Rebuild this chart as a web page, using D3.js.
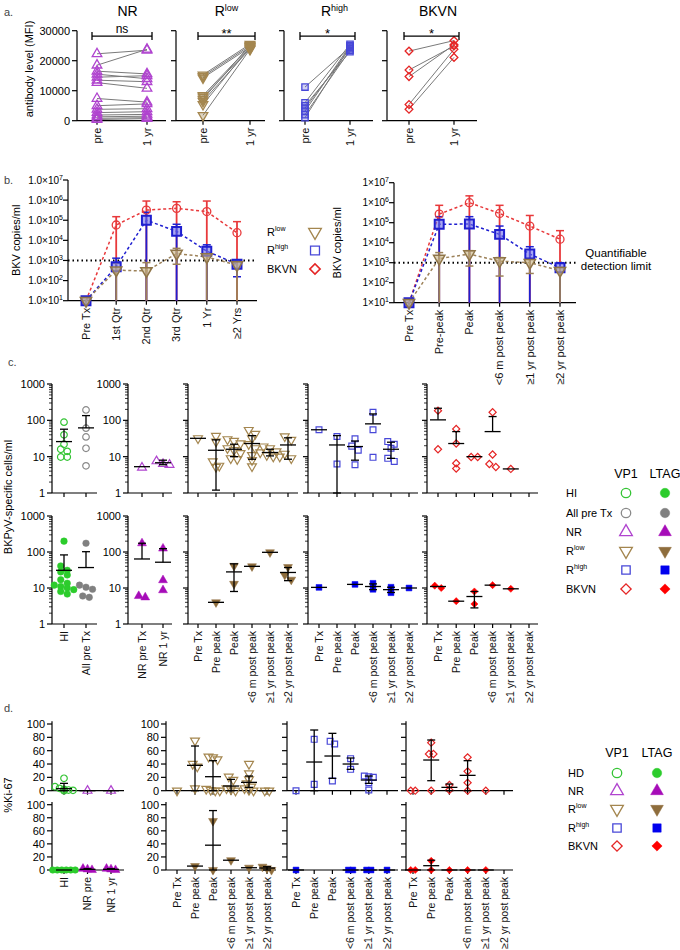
<!DOCTYPE html>
<html><head><meta charset="utf-8">
<script src="https://cdn.jsdelivr.net/npm/d3@7"></script>
<style>body{margin:0;background:#fff} text{font-family:'Liberation Sans',Arial,sans-serif}</style>
</head><body><script>
// ================= DATA =================
// Panel a
const aGroups = ["NR","Rlow","Rhigh","BKVN"];
const aTimepoints = ["pre","1 yr"];
const aYTicks = [0,10000,20000,30000];
const aSignif = ["ns","**","*","*"];
const aNRpre  = [22300,18500,16500,15500,14500,13500,12700,7400,5000,3800,2700,1900,1300,800,400];
const aNRpost = [23500,23800,15600,14000,15000,13000,10800,6200,5600,4000,3000,2100,1500,1000,700];
const aRlowPre  = [15300,14800,14300,8400,7900,7200,6500,5400,1800];
const aRlowPost = [25500,25000,24500,24800,24200,25200,24000,24600,23800];
const aRhighPre  = [11200,6000,5000,4200,3200,2000,1000];
const aRhighPost = [24500,25500,23000,24000,25000,23500,24800];
const aBKVNpre  = [23200,16900,14700,5400,3800];
const aBKVNpost = [26700,24900,25300,23800,21100];

// Panel b
const bCatsLeft  = ["Pre Tx","1st Qtr","2nd Qtr","3rd Qtr","1 Yr","≥2 Yrs"];
const bCatsRight = ["Pre Tx","Pre-peak","Peak","<6 m post peak","≥1 yr post peak","≥2 yr post peak"];
const bTickExps = [1,2,3,4,5,6,7];
const bTickPrefix = ["1.0×10","1×10"];
const bDetectionLimit = 1000;
const bLeftBKVN   = [10,5.8e4,3.2e5,3.9e5,2.7e5,2.4e4];
const bLeftBKVNhi = [null,1.5e5,9e5,8.3e5,9e5,8.5e4];
const bLeftBKVNlo = [null,10,10,10,10,10];
const bLeftRhigh   = [10,490,1.0e5,2.8e4,2.9e3,650];
const bLeftRhighhi = [null,1.3e3,2.5e5,6.3e4,6e3,1.05e3];
const bLeftRhighlo = [null,10,10,10,10,155];
const bLeftRlow   = [10,330,300,2.2e3,1.5e3,590];
const bLeftRlowhi = [null,720,780,4e3,2.2e3,900];
const bLeftRlowlo = [null,10,10,650,10,10];
const bRightBKVN   = [10,2.7e5,1e6,2.9e5,6.8e4,1.5e4];
const bRightBKVNhi = [null,7.4e5,2.2e6,7.4e5,2.3e5,4e4];
const bRightBKVNlo = [null,10,10,10,10,10];
const bRightRhigh   = [10,8.3e4,8.6e4,2.6e4,2.7e3,560];
const bRightRhighhi = [null,2e5,2e5,6.8e4,6.3e3,1e3];
const bRightRhighlo = [null,10,10,10,10,10];
const bRightRlow   = [10,1.6e3,2.7e3,1.2e3,1e3,400];
const bRightRlowhi = [null,3.2e3,4e3,1.8e3,1.6e3,600];
const bRightRlowlo = [null,10,680,215,290,10];
const bLegend = ["Rlow","Rhigh","BKVN"];

// Panel c
const cCatsHI = ["HI","All pre Tx"];
const cCatsNR = ["NR pre Tx","NR 1 yr"];
const cCatsGroup = ["Pre Tx","Pre peak","Peak","<6 m post peak","≥1 yr post peak","≥2 yr post peak"];
const cYTicks = [1,10,100,1000];
// top row (VP1)
const cVP1HI   = [[89,40,22,16,14,9.8,9.8],[193,61,35,17,5.6]];
const cVP1HImean = [26,62], cVP1HIhi = [57,135], cVP1HIlo = [null,null];
const cVP1NR   = [[5.0],[6.0,6.3,7.5]];
const cVP1NRmean = [5.3,6.8], cVP1NRhi = [null,8.0], cVP1NRlo = [null,6.0];
const cVP1Rlow = [[32],[37,26,7.4,5.6,5.2],[30,27,23,17,15,12.5,9,8.5],[54,42,32,22,17,11,8,5.4],[19,17,14,13,11,10,10],[36,29,12,9]];
const cVP1Rlowmean = [32,15,16,23,13,21], cVP1Rlowhi = [null,29,22,38,16,33], cVP1Rlowlo = [null,1.2,10,8.5,10.5,8.5];
const cVP1Rhigh = [[55],[36,6.3],[31,19.5,15,6.0],[167,55,9.6],[26,22,17,9,7.4],[]];
const cVP1Rhighmean = [55,21,19,80,16,null], cVP1Rhighhi = [null,38,27,150,25,null], cVP1Rhighlo = [null,1,8,null,9,null];
const cVP1BKVN = [[185,16],[58,23,6.6,4.7],[9.8,9.8],[167,11.5,6.3,5.2],[4.6],[]];
const cVP1BKVNmean = [103,23,10,49,4.6,null], cVP1BKVNhi = [215,49,null,127,null,null], cVP1BKVNlo = [null,null,null,null,null,null];
// bottom row (LTAG)
const cLTAGHI = [[200,41,31,28,23,17,13.5,12,11,10,9,8,6.8],[175,12,10.5,9.2,6.0,5.5]];
const cLTAGHImean = [31,37], cLTAGHIhi = [83,102], cLTAGHIlo = [null,null];
const cLTAGNR = [[175,5.5,6.0],[125,16.5,8.7]];
const cLTAGNRmean = [64,52], cLTAGNRhi = [175,124], cLTAGNRlo = [null,null];
const cLTAGRlow = [[],[4.0],[41,13],[40],[98],[38,23,17]];
const cLTAGRlowmean = [null,4,28,40,98,27], cLTAGRlowhi = [null,null,47,null,null,37], cLTAGRlowlo = [null,null,8,null,null,16];
const cLTAGRhigh = [[10.4],[],[12.6],[9.2,13.5],[7.4,10.5],[10]];
const cLTAGRhighmean = [10.4,null,12.6,11,9,10], cLTAGRhighhi = [null,null,null,13,10.5,null], cLTAGRhighlo = [null,null,null,9,7.5,null];
const cLTAGBKVN = [[10,11.6],[4.3],[8,3.6],[12],[9.5],[]];
const cLTAGBKVNmean = [11,4.3,5.8,12,9.5,null], cLTAGBKVNhi = [null,null,8,null,null,null], cLTAGBKVNlo = [null,null,2.8,null,null,null];
const cLegendNames = ["HI","All pre Tx","NR","Rlow","Rhigh","BKVN"];
const cLegendKeys  = ["HI","AllPre","NR","Rlow","Rhigh","BKVN"];
const legendHeaders = ["VP1","LTAG"];

// Panel d
const dCats1 = ["HI","NR pre","NR 1 yr"];
const dYTicks = [0,20,40,60,80,100];
const dVP1first = [[18.6,6,3.5,2,1,0,0.5],[0],[0]];
const dVP1firstmean = [3,0,0], dVP1firsthi = [11,null,null], dVP1firstlo = [0,null,null];
const dVP1Rlow = [[0],[75,40,36,3.5],[51,50,47,2.5,0,0,1],[21,16,3.5,2,0],[40,26,17,11,6,3.5,1,0],[0,0]];
const dVP1Rlowmean = [null,38,21,7,12.5,0], dVP1Rlowhi = [null,67,45,17,22,null], dVP1Rlowlo = [null,0,0,0,5,null];
const dVP1Rhigh = [[0],[77,9.5],[74,70,14.5],[48,32],[22,20,21,12,1],[]];
const dVP1Rhighmean = [null,43,52,40,16,null], dVP1Rhighhi = [null,91,86,49,22,null], dVP1Rhighlo = [null,0,18.5,32,11,null];
const dVP1BKVN = [[0,0],[72,55,55,0],[1,8.5],[50,29,12,0],[0],[]];
const dVP1BKVNmean = [null,46,5,23,null,null], dVP1BKVNhi = [null,76,10,45,null,null], dVP1BKVNlo = [null,15,0,0,null,null];
const dLTAGfirst = [[0,0,0,0,0,0],[2,0,1],[2,1,0]];
const dLTAGfirstmean = [0,1,1], dLTAGfirsthi = [null,2,2], dLTAGfirstlo = [null,null,null];
const dLTAGRlow = [[],[6],[75,0],[15],[3.5],[5,0,2.5]];
const dLTAGRlowmean = [null,6,38,15,3.5,3], dLTAGRlowhi = [null,null,91,null,null,5], dLTAGRlowlo = [null,null,0,null,null,0];
const dLTAGRhigh = [[0],[],[],[0,0],[0,0],[0]];
const dLTAGRhighmean = [0,null,null,0,0,0], dLTAGRhighhi = [null,null,null,null,null,null], dLTAGRhighlo = [null,null,null,null,null,null];
const dLTAGBKVN = [[0,0],[14,0],[0],[0],[0],[]];
const dLTAGBKVNmean = [0,6.6,0,0,0,null], dLTAGBKVNhi = [null,15,null,null,null,null], dLTAGBKVNlo = [null,0,null,null,null,null];
const dLegendNames = ["HD","NR","Rlow","Rhigh","BKVN"];
const dLegendKeys  = ["HI","NR","Rlow","Rhigh","BKVN"];

// ================= DRAWING =================
const svg = d3.select("body").append("svg").attr("width",680).attr("height",950).style("display","block");
const CAL = "Lato,'Open Sans',sans-serif";
const STY = {
  HI:{stroke:"#35c435", fill:"#2ccc2c", shape:"circle"},
  AllPre:{stroke:"#8a8a8a", fill:"#808080", shape:"circle"},
  NR:{stroke:"#b044cf", fill:"#a60cb8", shape:"tri"},
  Rlow:{stroke:"#a4864f", fill:"#8e6d3c", shape:"itri"},
  Rhigh:{stroke:"#4848d8", fill:"#0000ee", shape:"square"},
  BKVN:{stroke:"#e52525", fill:"#ff0000", shape:"diamond"}
};
function symD(shape,size){
  const t = shape==="circle"?d3.symbolCircle:(shape==="tri"||shape==="itri")?d3.symbolTriangle:d3.symbolSquare;
  return d3.symbol().type(t).size(shape==="diamond"?size*0.75:size)();
}
function drawSym(g,shape,x,y,size,stroke,fill,sw){
  const r = shape==="itri"?180:shape==="diamond"?45:0;
  g.append("path").attr("d",symD(shape,size)).attr("transform",`translate(${x},${y}) rotate(${r})`)
    .attr("fill",fill).attr("stroke",stroke).attr("stroke-width",sw);
}
function supText(sel,name,supSize){
  const m = name.match(/^R(low|high)$/);
  if(m){ sel.append("tspan").text("R"); sel.append("tspan").attr("dy",-5).attr("font-size",supSize).text(m[1]); }
  else sel.text(name);
}
function line(g,x1,y1,x2,y2,col,w){
  return g.append("line").attr("x1",x1).attr("y1",y1).attr("x2",x2).attr("y2",y2).attr("stroke",col||"#000").attr("stroke-width",w||1);
}
function rotLabel(g,x,y,t,fs){
  g.append("text").attr("transform",`translate(${x},${y}) rotate(-90)`).attr("text-anchor","end").attr("dy","0.35em")
    .attr("font-size",fs).attr("fill","#111").text(t);
}
function panelLetter(x,y,t){ svg.append("text").attr("x",x).attr("y",y).attr("font-size",11).attr("fill","#444").text(t); }

// ---------- Panel a ----------
panelLetter(4,16,"a.");
const aLayout=[{x0:77,x1:166,c0:97,c1:147},{x0:176,x1:265,c0:203,c1:250},{x0:284,x1:373,c0:305,c1:350},{x0:387,x1:477,c0:409,c1:454}];
const aData=[[aNRpre,aNRpost],[aRlowPre,aRlowPost],[aRhighPre,aRhighPost],[aBKVNpre,aBKVNpost]];
const aYScale = d3.scaleLinear().domain([0,30000]).range([120.7,30.7]);
aGroups.forEach((grp,i)=>{
  const L=aLayout[i], g=svg.append("g"), st=STY[grp];
  const x=d3.scalePoint().domain(aTimepoints).range([L.c0,L.c1]);
  const y=aYScale;
  line(g,L.x0,y(0),L.x0,y(30000),"#000",1.2);
  aYTicks.forEach(t=>{
    line(g,L.x0-5,y(t),L.x0,y(t),"#000",1.2);
    if(i===0) g.append("text").attr("x",L.x0-7).attr("y",y(t)).attr("dy","0.35em").attr("text-anchor","end").attr("font-size",11).text(t);
  });
  line(g,L.x0,y(0),L.x1,y(0),"#000",1.2);
  aTimepoints.forEach(tp=>{ line(g,x(tp),y(0),x(tp),y(0)+4,"#000",1.2); rotLabel(g,x(tp),y(0)+7,tp,11); });
  const [pre,post]=aData[i];
  pre.forEach((v,k)=> line(g,x("pre"),y(v),x("1 yr"),y(post[k]),"#7a7a7a",1));
  const fillA = grp==="NR"?"none":(grp==="Rlow"?"rgba(164,134,79,0.35)":grp==="Rhigh"?"rgba(72,72,216,0.25)":"none");
  pre.forEach(v=>drawSym(g,st.shape,x("pre"),y(v),40,st.stroke,fillA,1.3));
  post.forEach(v=>drawSym(g,st.shape,x("1 yr"),y(v),40,st.stroke,fillA,1.3));
  const by=y(28200), bx0=x("pre")-5, bx1=x("1 yr")+5;
  line(g,bx0,by,bx1,by,"#000",1.3); line(g,bx0,by-4,bx0,by+4,"#000",1.3); line(g,bx1,by-4,bx1,by+4,"#000",1.3);
  g.append("text").attr("x",(bx0+bx1)/2).attr("y",by-(aSignif[i]==="ns"?3:-2)).attr("text-anchor","middle").attr("font-size",aSignif[i]==="ns"?12:13).text(aSignif[i]);
  const tt=g.append("text").attr("x",(L.x0+L.x1)/2+6).attr("y",16).attr("text-anchor","middle").attr("font-size",14).attr("font-family",CAL);
  supText(tt,grp,9);
});
svg.append("text").attr("transform","translate(33,69) rotate(-90)").attr("text-anchor","middle").attr("font-size",11).text("antibody level (MFI)");

// ---------- Panel b ----------
panelLetter(4,184,"b.");
const bLayouts=[{x0:68,x1:257,c0:86,c1:237,yTop:180,yBot:300.7,ylx:20},{x0:394,x1:576,c0:409,c1:560,yTop:182.7,yBot:302.7,ylx:341}];
const bSeries=[
  [{k:"BKVN",m:bLeftBKVN,hi:bLeftBKVNhi,lo:bLeftBKVNlo},{k:"Rhigh",m:bLeftRhigh,hi:bLeftRhighhi,lo:bLeftRhighlo},{k:"Rlow",m:bLeftRlow,hi:bLeftRlowhi,lo:bLeftRlowlo}],
  [{k:"BKVN",m:bRightBKVN,hi:bRightBKVNhi,lo:bRightBKVNlo},{k:"Rhigh",m:bRightRhigh,hi:bRightRhighhi,lo:bRightRhighlo},{k:"Rlow",m:bRightRlow,hi:bRightRlowhi,lo:bRightRlowlo}]
];
const bColors={BKVN:"#e8393b",Rhigh:"#1f1fd0",Rlow:"#9c8158"};
const bMarkFill={BKVN:"none",Rhigh:"rgba(110,110,235,0.6)",Rlow:"rgba(200,180,130,0.6)"};
function bMarker(g,k,x,y){
  if(k==="BKVN") g.append("circle").attr("cx",x).attr("cy",y).attr("r",4).attr("fill","none").attr("stroke","#e8393b").attr("stroke-width",1.3);
  else if(k==="Rhigh") drawSym(g,"square",x,y,80,"#1f1fd0",bMarkFill.Rhigh,2);
  else drawSym(g,"itri",x,y,55,"#8f7548",bMarkFill.Rlow,1.5);
}
[bCatsLeft,bCatsRight].forEach((cats,p)=>{
  const L=bLayouts[p], g=svg.append("g");
  const x=d3.scalePoint().domain(cats).range([L.c0,L.c1]);
  const y=d3.scaleLog().domain([10,1e7]).range([L.yBot,L.yTop]);
  line(g,L.x0,L.yBot,L.x0,L.yTop,"#000",1.2);
  bTickExps.forEach(e=>{
    const v=Math.pow(10,e);
    line(g,L.x0-5,y(v),L.x0,y(v),"#000",1.2);
    const t=g.append("text").attr("x",L.x0-5).attr("y",y(v)).attr("dy","0.35em").attr("text-anchor","end").attr("font-size",10);
    t.append("tspan").text(bTickPrefix[p]); t.append("tspan").attr("dy",-4).attr("font-size",7).text(e);
  });
  line(g,L.x0,L.yBot,L.x1,L.yBot,"#000",1.2);
  cats.forEach(c=>{ line(g,x(c),L.yBot,x(c),L.yBot+4,"#000",1.2); rotLabel(g,x(c),L.yBot+7,c,11); });
  line(g,L.x0,y(bDetectionLimit),L.x1,y(bDetectionLimit),"#000",2).attr("stroke-dasharray","1.5,3");
  bSeries[p].forEach(s=>{
    const col=bColors[s.k];
    cats.forEach((c,j)=>{
      if(s.hi[j]!=null){ line(g,x(c),y(s.m[j]),x(c),y(s.hi[j]),col,1.8); line(g,x(c)-4,y(s.hi[j]),x(c)+4,y(s.hi[j]),col,1.5); }
      if(s.lo[j]!=null){ line(g,x(c),y(s.m[j]),x(c),y(s.lo[j]),col,1.8); if(s.lo[j]>10) line(g,x(c)-4,y(s.lo[j]),x(c)+4,y(s.lo[j]),col,1.5); }
    });
  });
  bSeries[p].forEach(s=>{
    g.append("path").datum(s.m).attr("d",d3.line().x((d,j)=>x(cats[j])).y(d=>y(d)))
      .attr("fill","none").attr("stroke",bColors[s.k]).attr("stroke-width",1.5).attr("stroke-dasharray","3,2.5");
  });
  bSeries[p].forEach(s=>{ cats.forEach((c,j)=>bMarker(g,s.k,x(c),y(s.m[j]))); });
  svg.append("text").attr("transform",`translate(${L.ylx},${(L.yTop+L.yBot)/2}) rotate(-90)`).attr("text-anchor","middle").attr("font-size",11).text("BKV copies/ml");
});
bLegend.forEach((k,i)=>{
  const yy=232+i*18.5;
  const t=svg.append("text").attr("x",267).attr("y",yy).attr("dy","0.35em").attr("font-size",11);
  supText(t,k,7);
  if(k==="BKVN") drawSym(svg,"diamond",315,yy,70,"#e52525","none",1.6);
  else if(k==="Rhigh") drawSym(svg,"square",315,yy,80,"#4848d8","none",1.3);
  else drawSym(svg,"itri",315,yy,70,"#a4864f","none",1.3);
});
svg.append("text").attr("x",616).attr("y",253).attr("dy","0.35em").attr("text-anchor","middle").attr("font-size",11.5).attr("font-family",CAL).text("Quantifiable");
svg.append("text").attr("x",616).attr("y",266).attr("dy","0.35em").attr("text-anchor","middle").attr("font-size",11.5).attr("font-family",CAL).text("detection limit");

// ---------- generic dot panel (c, d) ----------
// GraphPad-like scatter: points at similar heights are arranged side by side, centred on the category.
function swarm(pys,spacing,thr){
  const idx=pys.map((p,i)=>i).sort((a,b)=>pys[a]-pys[b]);
  const offs=new Array(pys.length).fill(0);
  let row=[];
  const flush=()=>{ row.forEach((id,k)=>offs[id]=(k-(row.length-1)/2)*spacing); row=[]; };
  idx.forEach(id=>{
    if(row.length && Math.abs(pys[id]-pys[row[0]])>thr) flush();
    row.push(id);
  });
  flush();
  return offs;
}
function dotPanel(o){
  const g=svg.append("g");
  const x=d3.scalePoint().domain(o.cats).range([o.c0,o.c1]);
  const y=(o.log?d3.scaleLog():d3.scaleLinear()).domain(o.domain).range([o.yBot,o.yTop]);
  const yAxisBot = o.log? o.yBot : y(0);
  line(g,o.x0,o.yBot,o.x0,o.yTop,"#000",1.2);
  o.ticks.forEach(t=>{
    line(g,o.x0-5,y(t),o.x0,y(t),"#000",1.2);
    if(o.yLabels) g.append("text").attr("x",o.x0-7).attr("y",y(t)).attr("dy","0.35em").attr("text-anchor","end").attr("font-size",11).text(t);
  });
  if(o.log){
    for(let e=0;e<3;e++) for(let m=2;m<10;m++){ const v=m*Math.pow(10,e); line(g,o.x0-3,y(v),o.x0,y(v),"#000",0.8); }
  }
  line(g,o.x0,yAxisBot,o.x1,yAxisBot,"#000",1.2);
  o.cats.forEach(c=>{
    line(g,x(c),yAxisBot,x(c),yAxisBot+4,"#000",1.2);
    if(o.xLabels) rotLabel(g,x(c),yAxisBot+7,c,10.5);
  });
  const size=o.size||36;
  o.cats.forEach((c,j)=>{
    const st=STY[o.groups[j]];
    const vals=o.pts[j]||[];
    const pys=vals.map(v=>y(v));
    const offs=swarm(pys,o.spacing,o.thr);
    vals.forEach((v,k)=>{
      drawSym(g,st.shape,x(c)+offs[k],pys[k],size,o.filled?st.fill:st.stroke,o.filled?st.fill:"none",o.filled?0.5:1.2);
    });
  });
  o.cats.forEach((c,j)=>{
    const m=o.mean[j]; if(m==null) return;
    const cx=x(c), ym=y(m);
    line(g,cx-8,ym,cx+8,ym,"#000",1.3);
    if(o.hi[j]!=null){ line(g,cx,ym,cx,y(o.hi[j]),"#000",1.3); line(g,cx-4,y(o.hi[j]),cx+4,y(o.hi[j]),"#000",1.3); }
    if(o.lo[j]!=null){ line(g,cx,ym,cx,y(o.lo[j]),"#000",1.3); line(g,cx-4,y(o.lo[j]),cx+4,y(o.lo[j]),"#000",1.3); }
  });
}

// ---------- Panel c ----------
panelLetter(8,366,"c.");
const cLayout=[{x0:52,x1:97,c0:64,c1:86},{x0:128,x1:172,c0:142,c1:163},{x0:188,x1:298,c0:198,c1:288},{x0:308,x1:418,c0:319,c1:409},{x0:427,x1:538,c0:438,c1:529}];
const cRows=[{yTop:384,yBot:493,filled:false,xl:false,
  sets:[[cCatsHI,["HI","AllPre"],cVP1HI,cVP1HImean,cVP1HIhi,cVP1HIlo],[cCatsNR,["NR","NR"],cVP1NR,cVP1NRmean,cVP1NRhi,cVP1NRlo],
        [cCatsGroup,Array(6).fill("Rlow"),cVP1Rlow,cVP1Rlowmean,cVP1Rlowhi,cVP1Rlowlo],[cCatsGroup,Array(6).fill("Rhigh"),cVP1Rhigh,cVP1Rhighmean,cVP1Rhighhi,cVP1Rhighlo],
        [cCatsGroup,Array(6).fill("BKVN"),cVP1BKVN,cVP1BKVNmean,cVP1BKVNhi,cVP1BKVNlo]]},
 {yTop:516,yBot:624,filled:true,xl:true,
  sets:[[cCatsHI,["HI","AllPre"],cLTAGHI,cLTAGHImean,cLTAGHIhi,cLTAGHIlo],[cCatsNR,["NR","NR"],cLTAGNR,cLTAGNRmean,cLTAGNRhi,cLTAGNRlo],
        [cCatsGroup,Array(6).fill("Rlow"),cLTAGRlow,cLTAGRlowmean,cLTAGRlowhi,cLTAGRlowlo],[cCatsGroup,Array(6).fill("Rhigh"),cLTAGRhigh,cLTAGRhighmean,cLTAGRhighhi,cLTAGRhighlo],
        [cCatsGroup,Array(6).fill("BKVN"),cLTAGBKVN,cLTAGBKVNmean,cLTAGBKVNhi,cLTAGBKVNlo]]}];
cRows.forEach(R=>{
  R.sets.forEach((s,i)=>{
    const L=cLayout[i];
    dotPanel({x0:L.x0,x1:L.x1,c0:L.c0,c1:L.c1,yTop:R.yTop,yBot:R.yBot,log:true,domain:[1,1000],ticks:cYTicks,
      yLabels:i<2,xLabels:R.xl,cats:s[0],groups:s[1],pts:s[2],mean:s[3],hi:s[4],lo:s[5],filled:R.filled,size:34,spacing:6.5,thr:5});
  });
});
svg.append("text").attr("transform","translate(12,497) rotate(-90)").attr("text-anchor","middle").attr("font-size",11).text("BKPyV-specific cells/ml");
function legend(names,keys,x0,xo,xf,yh,ys){
  legendHeaders.forEach((h,i)=>svg.append("text").attr("x",i?xf:xo).attr("y",yh).attr("dy","0.35em").attr("text-anchor","middle").attr("font-size",12.5).attr("font-family",CAL).text(h));
  names.forEach((n,i)=>{
    const st=STY[keys[i]], yy=ys[i];
    const t=svg.append("text").attr("x",x0).attr("y",yy).attr("dy","0.35em").attr("font-size",11); supText(t,n,7);
    drawSym(svg,st.shape,xo,yy,70,st.stroke,"none",1.3);
    drawSym(svg,st.shape,xf,yy,70,st.fill,st.fill,0.5);
  });
}
legend(cLegendNames,cLegendKeys,566,626,665,474,[493,513,532,551,570,589]);

// ---------- Panel d ----------
panelLetter(4,712,"d.");
const dLayout=[{x0:52,x1:124,c0:64,c1:111},{x0:166,x1:276,c0:177,c1:267},{x0:287,x1:398,c0:296,c1:387},{x0:406,x1:513,c0:413,c1:504}];
const dRows=[{y0:790.7,y100:724,filled:false,xl:false,
  sets:[[dCats1,["HI","NR","NR"],dVP1first,dVP1firstmean,dVP1firsthi,dVP1firstlo],[cCatsGroup,Array(6).fill("Rlow"),dVP1Rlow,dVP1Rlowmean,dVP1Rlowhi,dVP1Rlowlo],
        [cCatsGroup,Array(6).fill("Rhigh"),dVP1Rhigh,dVP1Rhighmean,dVP1Rhighhi,dVP1Rhighlo],[cCatsGroup,Array(6).fill("BKVN"),dVP1BKVN,dVP1BKVNmean,dVP1BKVNhi,dVP1BKVNlo]]},
 {y0:870,y100:804.7,filled:true,xl:true,
  sets:[[dCats1,["HI","NR","NR"],dLTAGfirst,dLTAGfirstmean,dLTAGfirsthi,dLTAGfirstlo],[cCatsGroup,Array(6).fill("Rlow"),dLTAGRlow,dLTAGRlowmean,dLTAGRlowhi,dLTAGRlowlo],
        [cCatsGroup,Array(6).fill("Rhigh"),dLTAGRhigh,dLTAGRhighmean,dLTAGRhighhi,dLTAGRhighlo],[cCatsGroup,Array(6).fill("BKVN"),dLTAGBKVN,dLTAGBKVNmean,dLTAGBKVNhi,dLTAGBKVNlo]]}];
dRows.forEach(R=>{
  const yTop = R.y0 - (R.y0-R.y100)*1.04;
  R.sets.forEach((s,i)=>{
    const L=dLayout[i];
    dotPanel({x0:L.x0,x1:L.x1,c0:L.c0,c1:L.c1,yTop:yTop,yBot:R.y0,log:false,domain:[0,104],ticks:dYTicks,
      yLabels:i<2,xLabels:R.xl,cats:s[0],groups:s[1],pts:s[2],mean:s[3],hi:s[4],lo:s[5],filled:R.filled,size:34,spacing:4.5,thr:4});
  });
});
svg.append("text").attr("transform","translate(12,795) rotate(-90)").attr("text-anchor","middle").attr("font-size",11).text("%Ki-67");
legend(dLegendNames,dLegendKeys,568,617,657,753,[773,791,809,828,846]);
</script></body></html>
